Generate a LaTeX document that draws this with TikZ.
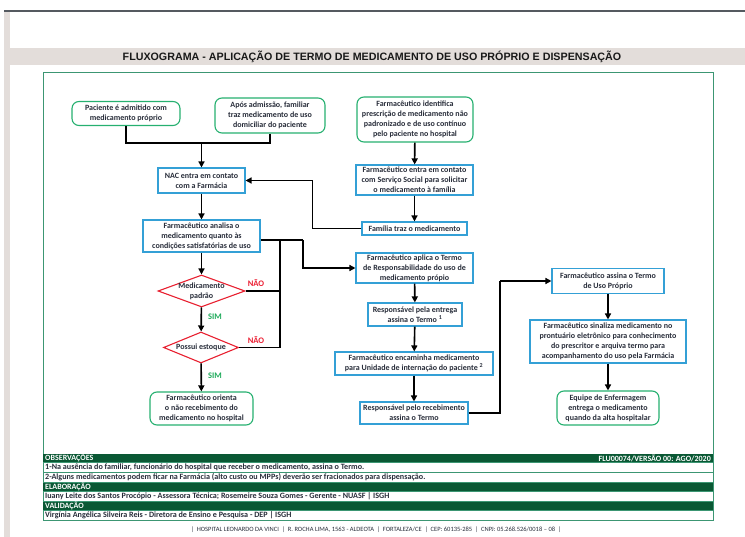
\documentclass[tikz,border=0pt]{standalone}
\usepackage{fontspec}
\setmainfont{Carlito}
\newfontfamily\titlefont{Liberation Sans}
\usepackage{tikz}
\usetikzlibrary{arrows.meta,shapes.geometric}
\usepackage{xcolor}

\definecolor{boxblue}{RGB}{52,160,214}
\definecolor{boxgreen}{RGB}{38,176,112}
\definecolor{decred}{RGB}{232,32,48}
\definecolor{framegreen}{RGB}{60,150,115}
\definecolor{banddark}{RGB}{10,88,52}
\definecolor{beige}{RGB}{227,221,218}
\definecolor{topgray}{RGB}{85,90,96}
\definecolor{txt}{RGB}{40,45,58}
\definecolor{simgreen}{RGB}{30,170,90}
\definecolor{naored}{RGB}{235,30,50}

\begin{document}
\begin{tikzpicture}[x=1pt,y=-1pt]

        \tikzset{
            box/.style={draw=boxblue, line width=1.1pt, fill=white, align=center, inner sep=1pt, text=txt, font=\bfseries\fontsize{8}{10}\selectfont},
            start/.style={box, draw=boxgreen, rounded corners=7pt},
            decision/.style={box, draw=decred, diamond, inner sep=0pt},
            link/.style={line width=1.6pt},
            flow/.style={link, -{Triangle[length=6pt,width=6pt]}},
            answer/.style={font=\bfseries\fontsize{8.5}{10}\selectfont},
            bandtext/.style={text=white, font=\bfseries\fontsize{8}{8}\selectfont, inner sep=0pt},
            rowtext/.style={text=txt, font=\bfseries\fontsize{8.1}{8}\selectfont, inner sep=0pt, anchor=west}
        }

        \useasboundingbox (0,0) rectangle (745,537);

        % page frame
        \fill[beige] (4,12) rectangle (10,537);
        \fill[beige] (4,48) rectangle (745,65);
        \draw[topgray, line width=2pt] (4,11) -- (745,11);
        \node[font=\titlefont\bfseries\fontsize{10.7}{11}\selectfont, text=black!90] (titulo) at (372,56.5) {FLUXOGRAMA - APLICAÇÃO DE TERMO DE MEDICAMENTO DE USO PRÓPRIO E DISPENSAÇÃO};
        \draw[framegreen, line width=1pt] (43,73) rectangle (713,520);

        % coluna da esquerda
        \node[start, minimum width=108pt, minimum height=24pt] (paciente) at (126,113.5) {Paciente é admitido com\\medicamento próprio};
        \node[start, minimum width=110pt, minimum height=35pt] (apos) at (270,115.5) {Após admissão, familiar\\traz medicamento de uso\\domiciliar do paciente};
        \node[box, minimum width=87pt, minimum height=25pt] (nac) at (201.5,180.5) {NAC entra em contato\\com a Farmácia};
        \node[box, minimum width=117pt, minimum height=32pt] (analisa) at (201.5,236) {Farmacêutico analisa o\\medicamento quanto às\\condições satisfatórias de uso};
        \node[decision, aspect=2.7, inner sep=-3pt, minimum width=87pt, minimum height=32pt] (padrao) at (201.5,291) {Medicamento\\padrão};
        \node[decision, aspect=2.4, minimum width=75pt, minimum height=31pt] (estoque) at (201,347.5) {Possui estoque};
        \node[start, minimum width=103pt, minimum height=33pt] (orienta) at (201.5,408.5) {Farmacêutico orienta\\o não recebimento do\\medicamento no hospital};

        % coluna do meio
        \node[start, minimum width=116pt, minimum height=45pt] (identifica) at (415,119.5) {Farmacêutico identifica\\prescrição de medicamento não\\padronizado e de uso contínuo\\pelo paciente no hospital};
        \node[box, minimum width=117pt, minimum height=30pt] (contato) at (414.5,180) {Farmacêutico entra em contato\\com Serviço Social para solicitar\\o medicamento à família};
        \node[box, minimum width=105pt, minimum height=13pt] (familia) at (414.5,228.5) {Família traz o medicamento};
        \node[box, minimum width=117pt, minimum height=30pt] (aplica) at (414.5,268) {Farmacêutico aplica o Termo\\de Responsabilidade do uso de\\medicamento própio};
        \node[box, minimum width=94pt, minimum height=23pt] (entrega) at (415,314.5) {Responsável pela entrega\\assina o Termo \textsuperscript{1}};
        \node[box, minimum width=158pt, minimum height=23pt] (encaminha) at (414,363.5) {Farmacêutico encaminha medicamento\\para Unidade de internação do paciente \textsuperscript{2}};
        \node[box, minimum width=108pt, minimum height=22pt] (receb) at (414,413) {Responsável pelo recebimento\\assina o Termo};

        % coluna da direita
        \node[box, minimum width=112pt, minimum height=25pt] (assina) at (608,281) {Farmacêutico assina o Termo\\de Uso Próprio};
        \node[box, minimum width=156pt, minimum height=43pt] (sinaliza) at (608,341.5) {Farmacêutico sinaliza medicamento no\\prontuário eletrônico para conhecimento\\do prescritor e arquiva termo para\\acompanhamento do uso pela Farmácia};
        \node[start, minimum width=102pt, minimum height=34pt] (equipe) at (608,408) {Equipe de Enfermagem\\entrega o medicamento\\quando da alta hospitalar};

        \coordinate (juncao) at (201.5,143);
        \coordinate (desvio) at (303,240);
        \coordinate (nao) at (280,240);
        \coordinate (subida) at (500,281);

        \draw[link] (paciente.south) |- (juncao);
        \draw[link] (apos.south) |- (juncao);
        \draw[flow] (juncao) -- (nac);
        \draw[flow] (nac) -- (analisa);
        \draw[flow] (analisa) -- (padrao);
        \draw[flow] (padrao) -- (estoque);
        \draw[flow] (estoque) -- (orienta);

        \draw[flow] (identifica) -- (contato);
        \draw[flow] (contato) -- (familia);
        \draw[flow] (familia.west) -- ++(-49,0) |- (nac.east);

        \draw[link] ([yshift=-4pt]analisa.east) -- (desvio);
        \draw[flow] (desvio) |- (aplica.west);
        \draw[link] (padrao.east) -| (nao);
        \draw[link] (estoque.east) -| (nao);

        \draw[flow] (aplica) -- (entrega);
        \draw[flow] (entrega) -- (encaminha);
        \draw[flow] (encaminha) -- (receb);
        \draw[link] (receb.east) -| (subida);
        \draw[flow] (subida) -- (assina.west);
        \draw[flow] (assina) -- (sinaliza);
        \draw[flow] (sinaliza) -- (equipe);

        \node[answer, text=naored] (nao1) at (256,283) {NÃO};
        \node[answer, text=naored] (nao2) at (256,340) {NÃO};
        \node[answer, text=simgreen] (sim1) at (215,317) {SIM};
        \node[answer, text=simgreen] (sim2) at (215,376) {SIM};

        % quadro de observacoes
        \fill[banddark] (43,454) rectangle (713,462);
        \fill[banddark] (43,482) rectangle (713,491);
        \fill[banddark] (43,501) rectangle (713,510);
        \foreach \y in {462,472,482,491,501,510} {
            \draw[framegreen, line width=0.8pt] (43,\y) -- (713,\y);
        }
        \node[bandtext, anchor=west] (obs) at (45,458) {OBSERVAÇÕES};
        \node[bandtext, anchor=east] (versao) at (711,458) {FLU00074/VERSÃO 00: AGO/2020};
        \node[rowtext] (nota1) at (45,467) {1-Na ausência do familiar, funcionário do hospital que receber o medicamento, assina o Termo.};
        \node[rowtext] (nota2) at (45,477) {2-Alguns medicamentos podem ficar na Farmácia (alto custo ou MPPs) deverão ser fracionados para dispensação.};
        \node[bandtext, anchor=west] (elab) at (45,486.5) {ELABORAÇÃO};
        \node[rowtext] (elabnome) at (45,496) {Iuany Leite dos Santos Procópio - Assessora Técnica; Rosemeire Souza Gomes - Gerente - NUASF | ISGH};
        \node[bandtext, anchor=west] (valid) at (45,505.5) {VALIDAÇÃO};
        \node[rowtext] (validnome) at (45,515) {Virgínia Angélica Silveira Reis - Diretora de Ensino e Pesquisa - DEP | ISGH};

        \node[text=txt, font=\fontsize{6.5}{7}\selectfont] (rodape) at (376,530) {| \ HOSPITAL LEONARDO DA VINCI \ | \ R. ROCHA LIMA, 1563 - ALDEOTA \ | \ FORTALEZA/CE \ | \ CEP: 60135-285 \ | \ CNPJ: 05.268.526/0018 – 08 \ |};

    \end{tikzpicture}
\end{document}
